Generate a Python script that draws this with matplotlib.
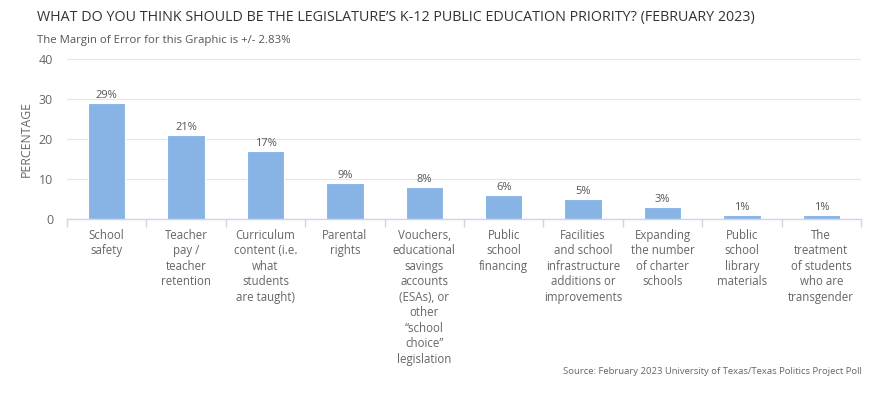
import matplotlib
matplotlib.use("Agg")
import matplotlib.pyplot as plt
import numpy as np

plt.rcParams['font.family'] = ['Open Sans', 'DejaVu Sans']

categories = [
    "School\nsafety",
    "Teacher\npay /\nteacher\nretention",
    "Curriculum\ncontent (i.e.\nwhat\nstudents\nare taught)",
    "Parental\nrights",
    "Vouchers,\neducational\nsavings\naccounts\n(ESAs), or\nother\n\u201cschool\nchoice\u201d\nlegislation",
    "Public\nschool\nfinancing",
    "Facilities\nand school\ninfrastructure\nadditions or\nimprovements",
    "Expanding\nthe number\nof charter\nschools",
    "Public\nschool\nlibrary\nmaterials",
    "The\ntreatment\nof students\nwho are\ntransgender",
]
values = [29, 21, 17, 9, 8, 6, 5, 3, 1, 1]
yticks = [0, 10, 20, 30, 40]

bar_color = "#87b3e5"
grid_color = "#e6e6e6"
axis_color = "#ccd6eb"
label_color = "#666666"

fig = plt.figure(figsize=(8.8, 3.95), dpi=100)
ax = fig.add_axes([67 / 880, 1 - 219 / 395, (861 - 67) / 880, (219 - 59) / 395])

x = np.arange(len(values))
bars = ax.bar(x, values, width=0.47, color=bar_color, edgecolor="white", linewidth=0.8, zorder=3)

for xi, v in zip(x, values):
    ax.text(xi, v + 0.4, "%d%%" % v, ha="center", va="bottom", fontsize=8, color="#555555", zorder=4)

ax.set_xlim(-0.5, len(values) - 0.5)
ax.set_ylim(0, 40)
ax.set_yticks(yticks)
ax.set_yticklabels([str(t) for t in yticks], fontsize=9, color=label_color)
ax.set_xticks(x)
ax.set_xticklabels(categories, fontsize=8.3, color=label_color, linespacing=1.25, va="top")
ax.set_xticks(np.arange(len(values) + 1) - 0.5, minor=True)
ax.tick_params(axis="x", which="major", length=0, pad=7)
ax.tick_params(axis="x", which="minor", length=6, color=axis_color, width=1)
ax.tick_params(axis="y", length=0, pad=10)

ax.grid(axis="y", color=grid_color, linewidth=0.8, zorder=0)
for s in ["top", "right", "left"]:
    ax.spines[s].set_visible(False)
ax.spines["bottom"].set_color(axis_color)
ax.spines["bottom"].set_linewidth(1)
ax.spines["bottom"].set_zorder(5)

ax.set_ylabel("PERCENTAGE", fontsize=8.8, color=label_color)
ax.yaxis.set_label_coords(-34 / 794, 0.5)

fig.text(37 / 880, 1 - 18 / 395, "WHAT DO YOU THINK SHOULD BE THE LEGISLATURE\u2019S K-12 PUBLIC EDUCATION PRIORITY? (FEBRUARY 2023)",
         fontsize=10.3, color="#333333", ha="left", va="center")
fig.text(37 / 880, 1 - 40 / 395, "The Margin of Error for this Graphic is +/- 2.83%",
         fontsize=8.2, color="#555555", ha="left", va="center")
fig.text(862 / 880, 1 - 372 / 395, "Source: February 2023 University of Texas/Texas Politics Project Poll",
         fontsize=6.8, color="#666666", ha="right", va="center")

plt.savefig("out.png", dpi=100)
